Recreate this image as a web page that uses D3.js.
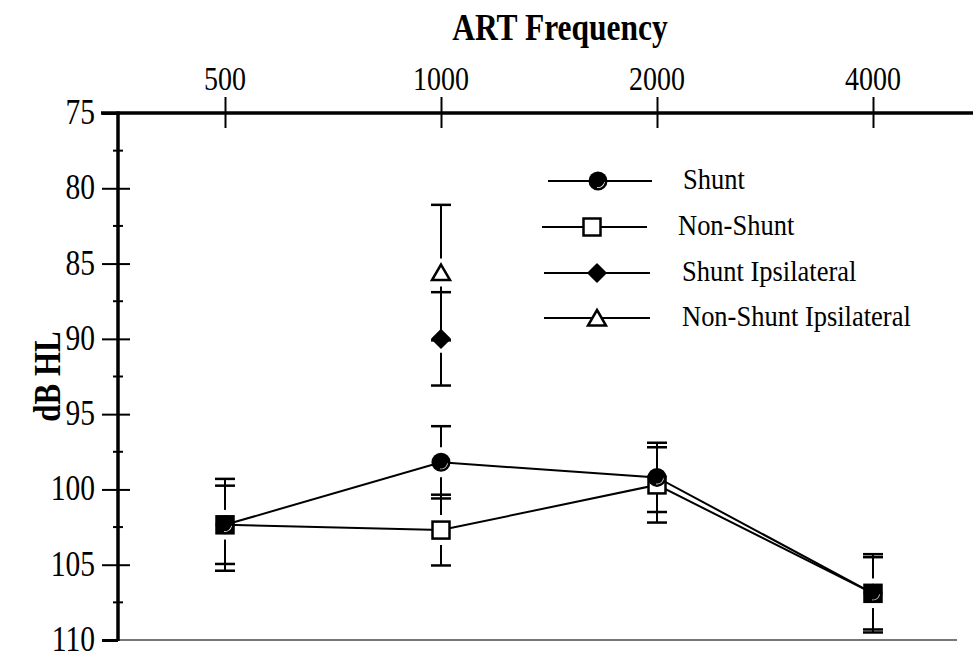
<!DOCTYPE html>
<html>
<head>
<meta charset="utf-8">
<script src="https://cdn.jsdelivr.net/npm/d3@7"></script>
<style>
  body { margin: 0; background: #fff; }
  svg { display: block; }
  text { font-family: "Liberation Serif", "Times New Roman", serif; fill: #000; }
</style>
</head>
<body>
<svg width="973" height="656"></svg>
<script>
// ART frequencies (Hz)
const freqs = [500, 1000, 2000, 4000];
const freqLabels = ["500", "1000", "2000", "4000"];

// mean thresholds (dB HL) and error bar half-widths
const shunt = [102.35, 98.2, 99.2, 106.9];
const shuntErr = [3.05, 2.4, 2.3, 2.6];
const nonShunt = [102.35, 102.7, 99.7, 106.9];
const nonShuntErr = [2.6, 2.35, 2.5, 2.4];

const ipsiFreqs = [1000];
const shuntIpsi = [90];
const shuntIpsiErr = [3.1];
const nonShuntIpsi = [85.6];
const nonShuntIpsiErr = [4.5];

const yTicks = [75, 80, 85, 90, 95, 100, 105, 110];
const yMinor = [77.5, 82.5, 87.5, 92.5, 97.5, 102.5, 107.5];

const legendLabels = ["Shunt", "Non-Shunt", "Shunt Ipsilateral", "Non-Shunt Ipsilateral"];

const svg = d3.select("svg");
const STRETCH = 1.2; // glyphs in the original are drawn taller than wide

const x = d3.scaleLog().base(2).domain([500, 4000]).range([225, 873]);
const y = d3.scaleLinear().domain([75, 110]).range([113, 640]);
const x0 = 118;

// text helper: stretched text anchored at (tx, ty)
function label(g, tx, ty, str, size, anchor, bold, rot, sy) {
	const t = g.append("g")
		.attr("transform", `translate(${tx},${ty}) rotate(${rot || 0}) scale(1,${sy || STRETCH})`)
		.append("text")
		.attr("text-anchor", anchor)
		.style("font-size", size + "px")
		.text(str);
	if (bold) t.style("font-weight", "bold");
	return t;
}

// bottom frame line
svg.append("line")
	.attr("x1", x0).attr("x2", 957)
	.attr("y1", y(110)).attr("y2", y(110))
	.attr("stroke", "#777").attr("stroke-width", 2);

// top axis
const xAxis = d3.axisTop(x)
	.tickValues(freqs)
	.tickFormat("")
	.tickSizeInner(16)
	.tickSizeOuter(0);
const gx = svg.append("g").attr("transform", `translate(0,${y(75)})`).call(xAxis);
gx.select(".domain").remove();
gx.selectAll(".tick line").attr("y2", -16).attr("y1", 15).attr("stroke", "#000").attr("stroke-width", 2);
svg.append("line")
	.attr("x1", 101).attr("x2", 973)
	.attr("y1", y(75)).attr("y2", y(75))
	.attr("stroke", "#000").attr("stroke-width", 3.5);

freqs.forEach((f, i) => label(svg, x(f), 90, freqLabels[i], 28, "middle"));
label(svg, 560, 40, "ART Frequency", 31.5, "middle", true);

// left axis
const yAxis = d3.axisLeft(y)
	.tickValues(yTicks)
	.tickFormat("")
	.tickSizeInner(16)
	.tickSizeOuter(0);
const gy = svg.append("g").attr("transform", `translate(${x0},0)`).call(yAxis);
gy.select(".domain").remove();
gy.selectAll(".tick line").attr("x1", 12).attr("stroke", "#000").attr("stroke-width", 2);
gy.selectAll(".tick").filter(d => d === 75 || d === 110).select("line").attr("x1", 0).attr("stroke-width", 3);

svg.selectAll("line.minor")
	.data(yMinor)
	.enter()
	.append("line")
	.attr("class", "minor")
	.attr("x1", x0 - 5).attr("x2", x0 + 5)
	.attr("y1", d => y(d)).attr("y2", d => y(d))
	.attr("stroke", "#000").attr("stroke-width", 2);

svg.append("line")
	.attr("x1", x0).attr("x2", x0)
	.attr("y1", y(75) - 1.5).attr("y2", y(110) + 1)
	.attr("stroke", "#000").attr("stroke-width", 3.5);

yTicks.forEach(v => label(svg, 95, y(v) + 11, String(v), 29.5, "end"));
label(svg, 60, y(92.5), "dB HL", 31, "middle", true, -90);

// data lines
const line = d3.line().x(d => x(d[0])).y(d => y(d[1]));
[shunt, nonShunt].forEach(vals => {
	svg.append("path")
		.datum(freqs.map((f, i) => [f, vals[i]]))
		.attr("d", line)
		.attr("fill", "none")
		.attr("stroke", "#000")
		.attr("stroke-width", 2);
});

// error bars, with a small gap around each marker
function errorBars(fs, vals, errs, gap) {
	fs.forEach((f, i) => {
		const cx = x(f), cy = y(vals[i]);
		const top = y(vals[i] - errs[i]), bot = y(vals[i] + errs[i]);
		const g = svg.append("g").attr("stroke", "#000");
		g.append("line").attr("x1", cx).attr("x2", cx).attr("y1", top).attr("y2", cy - gap).attr("stroke-width", 2);
		g.append("line").attr("x1", cx).attr("x2", cx).attr("y1", cy + gap).attr("y2", bot).attr("stroke-width", 2);
		[top, bot].forEach(yy => g.append("line")
			.attr("x1", cx - 10).attr("x2", cx + 10)
			.attr("y1", yy).attr("y2", yy)
			.attr("stroke-width", 2.5));
	});
}
errorBars(freqs, shunt, shuntErr, 15);
errorBars(freqs, nonShunt, nonShuntErr, 15);
errorBars(ipsiFreqs, nonShuntIpsi, nonShuntIpsiErr, 14);
errorBars(ipsiFreqs, shuntIpsi, shuntIpsiErr, 14);

// markers
function square(g, cx, cy, fill) {
	g.append("rect")
		.attr("x", cx - 8.5).attr("y", cy - 8.5)
		.attr("width", 17).attr("height", 17)
		.attr("fill", fill).attr("stroke", "#000").attr("stroke-width", 2.5);
}
function circle(g, cx, cy) {
	g.append("circle").attr("cx", cx).attr("cy", cy).attr("r", 9.5).attr("fill", "#000");
	const arc = d3.arc().innerRadius(6.3).outerRadius(7).startAngle(Math.PI * 0.55).endAngle(Math.PI * 1.05);
	g.append("path").attr("transform", `translate(${cx},${cy})`).attr("d", arc()).attr("fill", "#fff");
}
function diamond(g, cx, cy) {
	g.append("path")
		.attr("d", `M${cx},${cy - 9}L${cx + 9},${cy}L${cx},${cy + 9}L${cx - 9},${cy}Z`)
		.attr("fill", "#000").attr("stroke", "#000").attr("stroke-width", 1.5).attr("stroke-linejoin", "round");
}
function triangle(g, cx, cy) {
	g.append("path")
		.attr("d", `M${cx},${cy - 8}L${cx + 9},${cy + 7.5}L${cx - 9},${cy + 7.5}Z`)
		.attr("fill", "#fff").attr("stroke", "#000").attr("stroke-width", 2.5);
}

freqs.forEach((f, i) => {
	const same = Math.abs(shunt[i] - nonShunt[i]) < 0.2;
	square(svg, x(f), y(nonShunt[i]), same ? "#000" : "#fff");
});
freqs.forEach((f, i) => circle(svg, x(f), y(shunt[i])));
ipsiFreqs.forEach((f, i) => {
	triangle(svg, x(f), y(nonShuntIpsi[i]));
	diamond(svg, x(f), y(shuntIpsi[i]));
});

// legend
const legendRows = [
	{ y: 181, x1: 548, x2: 652, mx: 598, tx: 683, draw: circle },
	{ y: 227, x1: 542, x2: 647, mx: 592, tx: 678, draw: (g, cx, cy) => square(g, cx, cy, "#fff") },
	{ y: 273, x1: 544, x2: 650, mx: 597, tx: 682, draw: diamond },
	{ y: 318, x1: 544, x2: 650, mx: 597, tx: 682, draw: triangle }
];
legendRows.forEach((r, i) => {
	svg.append("line")
		.attr("x1", r.x1).attr("x2", r.x2)
		.attr("y1", r.y).attr("y2", r.y)
		.attr("stroke", "#000").attr("stroke-width", 2);
	r.draw(svg, r.mx, r.y);
	label(svg, r.tx, r.y + 8, legendLabels[i], 26.5, "start", false, 0, 1.1);
});
</script>
</body>
</html>
